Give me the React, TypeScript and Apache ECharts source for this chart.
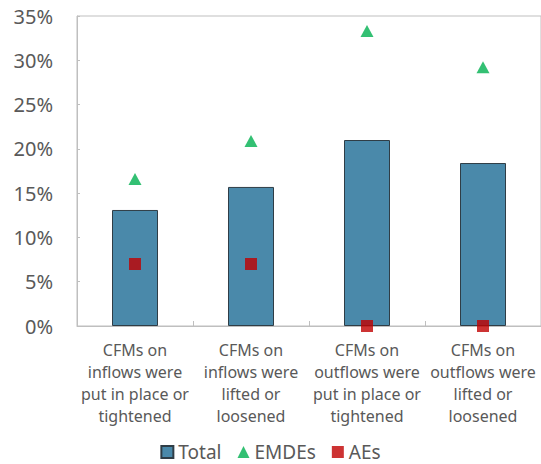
import React, { useEffect, useRef } from "react";
import * as echarts from "echarts";

const categories = [
  "CFMs on\ninflows were\nput in place or\ntightened",
  "CFMs on\ninflows were\nlifted or\nloosened",
  "CFMs on\noutflows were\nput in place or\ntightened",
  "CFMs on\noutflows were\nlifted or\nloosened",
];
const totalValues = [13.1, 15.7, 21.0, 18.4];
const emdeValues = [16.6, 20.9, 33.3, 29.2];
const aeValues = [7.0, 7.0, 0, 0];

const FONT = "'Noto Sans', 'Open Sans', sans-serif";
const TEXT = "#595959";

export default function App() {
  const ref = useRef<HTMLDivElement>(null);
  useEffect(() => {
    document.body.style.margin = "0";
    const chart = echarts.init(ref.current!, undefined, { renderer: "svg" });
    chart.setOption({
      animation: false,
      textStyle: { fontFamily: FONT },
      grid: {
        left: 77,
        right: -3,
        top: 16,
        bottom: 138,
        show: true,
        borderColor: "#bfbfbf",
        borderWidth: 1,
      },
      legend: {
        data: [
          { name: "Total", icon: "rect" },
          { name: "EMDEs", icon: "triangle" },
          { name: "AEs", icon: "rect" },
        ],
        left: "center",
        top: 442,
        padding: 0,
        itemWidth: 12,
        itemHeight: 12,
        itemGap: 16,
        textStyle: { color: TEXT, fontSize: 19, fontFamily: FONT, lineHeight: 20 },
      },
      xAxis: {
        type: "category",
        data: categories,
        axisLine: { lineStyle: { color: "#bfbfbf" } },
        axisTick: { show: true, inside: true, length: 5, lineStyle: { color: "#bfbfbf" } },
        axisLabel: {
          interval: 0,
          color: TEXT,
          fontSize: 16,
          lineHeight: 22,
          margin: 13,
          fontFamily: FONT,
        },
      },
      yAxis: {
        type: "value",
        min: 0,
        max: 35,
        interval: 5,
        splitLine: { show: false },
        axisLine: { show: true, lineStyle: { color: "#bfbfbf" } },
        axisTick: { show: true, inside: true, length: 3, lineStyle: { color: "#bfbfbf" } },
        axisLabel: {
          color: TEXT,
          fontSize: 20,
          margin: 24,
          formatter: "{value}%",
          fontFamily: FONT,
        },
      },
      series: [
        {
          name: "Total",
          type: "bar",
          data: totalValues,
          barWidth: 46,
          itemStyle: { color: "#4a89aa", borderColor: "#2f3d46", borderWidth: 1 },
          z: 1,
        },
        {
          name: "EMDEs",
          type: "scatter",
          data: emdeValues,
          symbol: "triangle",
          symbolSize: [13, 12],
          itemStyle: { color: "#00b050" },
          z: 3,
        },
        {
          name: "AEs",
          type: "scatter",
          data: aeValues,
          symbol: "rect",
          symbolSize: 12,
          itemStyle: { color: "#c00000" },
          z: 3,
        },
      ],
    });
    return () => chart.dispose();
  }, []);
  return <div ref={ref} style={{ width: 541, height: 464 }} />;
}
